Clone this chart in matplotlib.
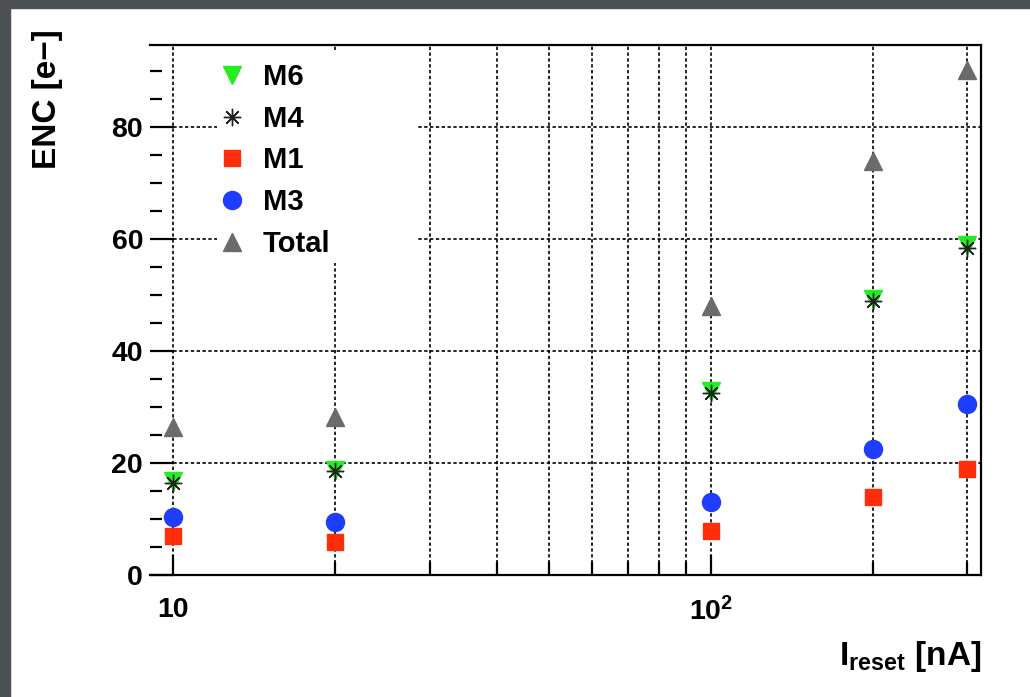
import numpy as np
import matplotlib
matplotlib.use("Agg")
import matplotlib.pyplot as plt
from matplotlib.patches import Rectangle
from matplotlib.ticker import FixedLocator, NullFormatter, MultipleLocator

plt.rcParams['font.family'] = 'Liberation Sans'
plt.rcParams['font.weight'] = 'bold'
plt.rcParams['axes.labelweight'] = 'bold'
plt.rcParams['mathtext.fontset'] = 'custom'
plt.rcParams['mathtext.rm'] = 'Liberation Sans:bold'
plt.rcParams['mathtext.it'] = 'Liberation Sans:bold'
plt.rcParams['mathtext.bf'] = 'Liberation Sans:bold'
plt.rcParams['mathtext.default'] = 'rm'

# reset current [nA]
i_reset = [10, 20, 100, 200, 300]

# ENC contributions [e-]
enc_m6 = [16.8, 18.8, 32.8, 49.3, 59.0]
enc_m4 = [16.5, 18.5, 32.5, 49.0, 58.5]
enc_m1 = [7.0, 5.9, 7.9, 14.0, 19.0]
enc_m3 = [10.4, 9.5, 13.1, 22.6, 30.5]
enc_total = [26.4, 28.3, 48.1, 73.9, 90.2]

fig = plt.figure(figsize=(10.3, 6.97), dpi=100)
ax = fig.add_axes([0.1456, 0.175, 0.8068, 0.7604])

# dark frame along the top and left edge
fig.patches.append(Rectangle((0, 0), 0.0097, 1, transform=fig.transFigure,
                             color='#4b5053', zorder=0))
fig.patches.append(Rectangle((0, 0.988), 1, 0.012, transform=fig.transFigure,
                             color='#4b5053', zorder=0))

ax.plot(i_reset, enc_total, ls='none', marker='^', ms=13, color='#6b6b6b', label='Total')
ax.plot(i_reset, enc_m3, ls='none', marker='o', ms=13, color='#1f3dff', label='M3')
ax.plot(i_reset, enc_m1, ls='none', marker='s', ms=12, color='#ff2d0a', label='M1')
ax.plot(i_reset, enc_m6, ls='none', marker='v', ms=13, color='#22ee22', label='M6')
ax.plot(i_reset, enc_m4, ls='none', marker=(8, 2, 0), ms=12.5, mew=1.0, color='#222222', label='M4')

ax.set_xscale('log')
ax.set_xlim(9.05, 318)
ax.set_ylim(0, 94.7)

ax.xaxis.set_major_locator(FixedLocator([10, 100]))
ax.xaxis.set_minor_locator(FixedLocator([20, 30, 40, 50, 60, 70, 80, 90, 200, 300]))
ax.set_xticklabels(['10', r'$10^{2}$'])
ax.xaxis.set_minor_formatter(NullFormatter())
ax.yaxis.set_major_locator(MultipleLocator(20))
ax.yaxis.set_minor_locator(MultipleLocator(5))

ax.tick_params(axis='x', which='major', direction='in', length=14.5, width=1.6,
               labelsize=20.5, pad=16, top=False)
ax.tick_params(axis='x', which='minor', direction='in', length=9.5, width=1.6, top=False)
ax.tick_params(axis='y', which='major', direction='in', length=17.5, width=1.6,
               labelsize=20.5, pad=5, right=False)
ax.tick_params(axis='y', which='minor', direction='in', length=8.5, width=1.6, right=False)

ax.spines['left'].set_visible(False)
for s in ['top', 'right', 'bottom']:
    ax.spines[s].set_linewidth(1.6)

ax.set_axisbelow(True)
ax.grid(True, which='both', axis='x', color='black', ls=(0, (2, 1.5)), lw=1.2)
ax.grid(True, which='major', axis='y', color='black', ls=(0, (2, 1.5)), lw=1.2)

# white box behind the legend hides the grid there
ax.add_patch(Rectangle((0.081, 0.589), 0.24, 0.401, transform=ax.transAxes,
                       facecolor='white', edgecolor='none', zorder=1.5))

h, l = ax.get_legend_handles_labels()
order = ['M6', 'M4', 'M1', 'M3', 'Total']
hs = [h[l.index(k)] for k in order]
leg = ax.legend(hs, order, loc='upper left', bbox_to_anchor=(0.069, 0.988),
                frameon=False, fontsize=21, handlelength=0.9, handletextpad=0.6,
                labelspacing=0.47, borderaxespad=0)
leg.set_zorder(3)

ax.set_xlabel(r'$I_{reset}$ [nA]', fontsize=24, loc='right')
ax.xaxis.set_label_coords(1.0, -0.12)
ax.set_ylabel('ENC [e\u2212]', fontsize=24, loc='top')
ax.yaxis.set_label_coords(-0.105, 1.03)

fig.savefig('out.png', dpi=100)
